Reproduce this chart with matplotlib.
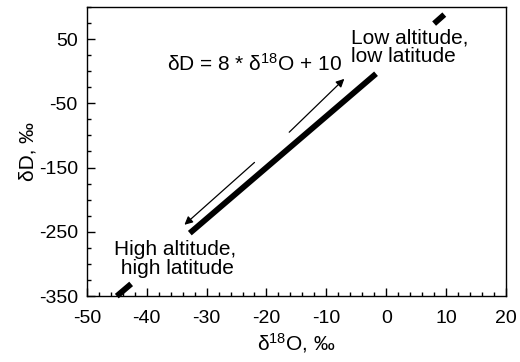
import matplotlib.pyplot as plt
from matplotlib.ticker import MultipleLocator

plt.rcParams['font.family'] = ['Liberation Sans', 'DejaVu Sans']
plt.rcParams['mathtext.fontset'] = 'custom'
plt.rcParams['mathtext.rm'] = 'Liberation Sans'
plt.rcParams['mathtext.it'] = 'Liberation Sans:italic'

# meteoric water line pieces
main_x = [-32.8, -1.7]
main_y = [-252, -4]
low_x = [-45.0, -42.6]
low_y = [-350, -331]
high_x = [8.0, 9.7]
high_y = [74, 88]

# arrows: (start, end)
arrow_up = ((-16.2, -95), (-7.0, -12))
arrow_down = ((-22.0, -142), (-33.7, -239))

xticks = [-50, -40, -30, -20, -10, 0, 10, 20]
yticks = [-350, -250, -150, -50, 50]

fs_tick = 14
fs_text = 15

fig = plt.figure(figsize=(5.2, 3.62), dpi=100)
ax = fig.add_axes([0.167, 0.182, 0.806, 0.799])

for xs, ys in [(main_x, main_y), (low_x, low_y), (high_x, high_y)]:
    ax.plot(xs, ys, color='black', lw=4.2, solid_capstyle='butt', clip_on=False)

for (s, e) in [arrow_up, arrow_down]:
    ax.annotate('', xy=e, xytext=s,
                arrowprops=dict(arrowstyle='-|>', color='black', lw=0.9,
                                mutation_scale=12, shrinkA=0, shrinkB=0))

ax.text(-36.6, 12, r'δD = 8 * δ$^{18}$O + 10', fontsize=fs_text, va='center', ha='left')
ax.text(-5.8, 37, 'Low altitude,\nlow latitude', fontsize=fs_text, va='center',
        ha='left', linespacing=1.0)
ax.text(-35.3, -293, 'High altitude,\n high latitude', fontsize=fs_text, va='center',
        ha='center', linespacing=1.0)

ax.set_xlim(-50, 20)
ax.set_ylim(-350, 100)
ax.set_xticks(xticks)
ax.set_xticklabels([str(v) for v in xticks])
ax.set_yticks(yticks)
ax.set_yticklabels([str(v) for v in yticks])
ax.xaxis.set_minor_locator(MultipleLocator(2))
ax.yaxis.set_minor_locator(MultipleLocator(25))
ax.tick_params(which='both', direction='in', top=False, right=False,
               labelsize=fs_tick, width=1, color='black')
ax.tick_params(which='major', length=6)
ax.tick_params(which='minor', length=3)
ax.tick_params(axis='x', which='major', pad=10)
ax.tick_params(axis='y', which='major', pad=6.5)
for sp in ax.spines.values():
    sp.set_linewidth(1.0)

ax.set_xlabel(r'δ$^{18}$O, ‰', fontsize=fs_text, labelpad=3)
ax.set_ylabel('δD, ‰', fontsize=fs_text, labelpad=1)

fig.savefig('out.png', dpi=100)
